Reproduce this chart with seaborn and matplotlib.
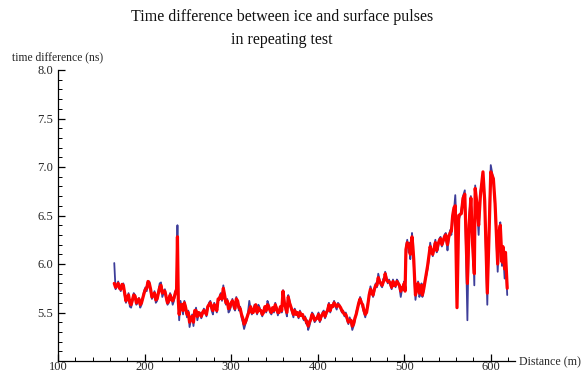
import matplotlib
matplotlib.use("Agg")
import matplotlib.pyplot as plt
from matplotlib.ticker import MultipleLocator
import seaborn as sns
import pandas as pd

# main samples
distance = [165, 168, 171, 174, 177, 180, 183, 186, 189, 192, 195, 198, 201, 204, 207, 210, 213, 216, 219, 222,
            225, 228, 231, 234, 237, 238, 240, 243, 246, 249, 252, 255, 258, 261, 264, 267, 270, 273, 276, 279,
            282, 285, 288, 291, 294, 297, 300, 303, 306, 309, 312, 315, 318, 321, 324, 327, 330, 333, 336, 339,
            342, 345, 348, 351, 354, 357, 360, 363, 366, 369, 372, 375, 378, 381, 384, 387, 389, 392, 395, 398,
            401, 404, 407, 410, 413, 416, 419, 422, 425, 428, 431, 434, 437, 440, 443, 446, 449, 452, 455, 458,
            461, 464, 467, 470, 473, 476, 478, 481, 484, 487, 490, 493, 496, 499, 501, 502, 505, 507, 509, 511,
            513, 516, 519, 521, 524, 527, 530, 533, 536, 539, 542, 545, 548, 550, 553, 556, 559, 561, 563, 566,
            568, 570, 573, 575, 577, 579, 581, 582, 584, 586, 588, 591, 593, 596, 598, 600, 603, 605, 608, 610,
            611, 613, 614, 616, 617, 619]

blue_values = [6.01, 5.77, 5.76, 5.78, 5.68, 5.64, 5.56, 5.62, 5.68, 5.60, 5.55, 5.66, 5.76, 5.80, 5.72, 5.67, 5.60, 5.72, 5.81, 5.70,
               5.64, 5.60, 5.66, 5.62, 5.70, 6.40, 5.42, 5.55, 5.62, 5.45, 5.35, 5.48, 5.50, 5.42, 5.50, 5.48, 5.52, 5.55, 5.62, 5.48,
               5.55, 5.62, 5.70, 5.78, 5.58, 5.50, 5.58, 5.55, 5.66, 5.52, 5.45, 5.33, 5.42, 5.62, 5.48, 5.58, 5.48, 5.55, 5.46, 5.55,
               5.62, 5.50, 5.54, 5.60, 5.47, 5.55, 5.73, 5.52, 5.68, 5.55, 5.45, 5.50, 5.44, 5.48, 5.42, 5.38, 5.32, 5.42, 5.48, 5.42,
               5.50, 5.44, 5.52, 5.48, 5.60, 5.55, 5.62, 5.53, 5.58, 5.50, 5.46, 5.42, 5.45, 5.32, 5.42, 5.55, 5.66, 5.55, 5.45, 5.60,
               5.77, 5.66, 5.80, 5.90, 5.78, 5.85, 5.92, 5.80, 5.78, 5.84, 5.76, 5.82, 5.66, 5.78, 5.74, 6.18, 6.12, 6.05, 6.32, 6.00,
               5.63, 5.82, 5.70, 5.66, 5.84, 5.95, 6.22, 6.08, 6.25, 6.15, 6.28, 6.22, 6.32, 6.14, 6.35, 6.45, 6.71, 6.30, 6.45, 6.55,
               6.70, 6.76, 5.42, 6.50, 6.70, 6.40, 5.78, 6.81, 6.60, 6.30, 6.75, 6.90, 6.60, 5.58, 6.40, 7.02, 6.87, 6.60, 5.92, 6.30,
               6.43, 5.98, 6.16, 5.85, 6.10, 5.68]

red_values = [5.80, 5.78, 5.75, 5.79, 5.70, 5.66, 5.60, 5.63, 5.67, 5.62, 5.58, 5.65, 5.74, 5.82, 5.74, 5.68, 5.63, 5.70, 5.78, 5.72,
              5.66, 5.62, 5.64, 5.65, 5.74, 6.28, 5.48, 5.58, 5.60, 5.48, 5.40, 5.46, 5.52, 5.46, 5.48, 5.50, 5.50, 5.56, 5.60, 5.52,
              5.56, 5.64, 5.68, 5.75, 5.60, 5.54, 5.60, 5.58, 5.64, 5.55, 5.48, 5.38, 5.44, 5.52, 5.50, 5.55, 5.50, 5.52, 5.48, 5.56,
              5.58, 5.52, 5.55, 5.58, 5.50, 5.56, 5.72, 5.55, 5.66, 5.56, 5.48, 5.48, 5.46, 5.47, 5.44, 5.40, 5.36, 5.43, 5.46, 5.44,
              5.48, 5.46, 5.50, 5.50, 5.58, 5.57, 5.60, 5.56, 5.57, 5.52, 5.48, 5.44, 5.42, 5.36, 5.44, 5.54, 5.64, 5.58, 5.48, 5.58,
              5.74, 5.68, 5.78, 5.86, 5.80, 5.82, 5.90, 5.82, 5.80, 5.82, 5.78, 5.80, 5.72, 5.76, 5.72, 6.15, 6.20, 6.10, 6.28, 6.05,
              5.68, 5.80, 5.72, 5.68, 5.82, 5.98, 6.18, 6.10, 6.22, 6.20, 6.26, 6.24, 6.30, 6.20, 6.32, 6.50, 6.60, 5.55, 6.50, 6.52,
              6.68, 6.72, 5.80, 6.40, 6.68, 6.20, 5.90, 6.78, 6.62, 6.40, 6.70, 6.95, 6.65, 5.70, 6.30, 6.95, 6.88, 6.62, 6.00, 6.35,
              6.40, 6.02, 6.18, 5.95, 6.12, 5.75]

# in-between samples (the fast jitter of the traces)
distance_mid = [166.5, 169.5, 172.5, 175.5, 178.5, 181.5, 184.5, 187.5, 190.5, 193.5, 196.5, 199.5, 202.5, 205.5, 208.5,
                211.5, 214.5, 217.5, 220.5, 223.5, 226.5, 229.5, 232.5, 235.5, 239, 241.5, 244.5, 247.5, 250.5, 253.5,
                256.5, 259.5, 262.5, 265.5, 268.5, 271.5, 274.5, 277.5, 280.5, 283.5, 286.5, 289.5, 292.5, 295.5, 298.5,
                301.5, 304.5, 307.5, 310.5, 313.5, 316.5, 319.5, 322.5, 325.5, 328.5, 331.5, 334.5, 337.5, 340.5, 343.5,
                346.5, 349.5, 352.5, 355.5, 358.5, 361.5, 364.5, 367.5, 370.5, 373.5, 376.5, 379.5, 382.5, 385.5, 388,
                390.5, 393.5, 396.5, 399.5, 402.5, 405.5, 408.5, 411.5, 414.5, 417.5, 420.5, 423.5, 426.5, 429.5, 432.5,
                435.5, 438.5, 441.5, 444.5, 447.5, 450.5, 453.5, 456.5, 459.5, 462.5, 465.5, 468.5, 471.5, 474.5, 477,
                479.5, 482.5, 485.5, 488.5, 491.5, 494.5, 497.5, 500, 503.5, 506, 508, 510, 512, 514.5, 517.5,
                520, 522.5, 525.5, 528.5, 531.5, 534.5, 537.5, 540.5, 543.5, 546.5, 549, 551.5, 554.5, 557.5]

blue_mid = [5.74, 5.82, 5.72, 5.80, 5.60, 5.70, 5.55, 5.70, 5.58, 5.65, 5.58, 5.72, 5.72, 5.82, 5.64,
            5.72, 5.62, 5.80, 5.66, 5.74, 5.58, 5.70, 5.58, 5.72, 5.60, 5.62, 5.48, 5.56, 5.52, 5.42,
            5.36, 5.55, 5.48, 5.44, 5.54, 5.46, 5.60, 5.52, 5.60, 5.50, 5.66, 5.62, 5.66, 5.64, 5.52,
            5.64, 5.52, 5.60, 5.56, 5.40, 5.38, 5.50, 5.54, 5.52, 5.56, 5.58, 5.50, 5.52, 5.50, 5.58,
            5.48, 5.50, 5.55, 5.52, 5.50, 5.62, 5.46, 5.62, 5.50, 5.54, 5.48, 5.52, 5.46, 5.46, 5.42,
            5.36, 5.50, 5.40, 5.46, 5.40, 5.50, 5.44, 5.54, 5.50, 5.58, 5.56, 5.60, 5.54, 5.52, 5.50,
            5.38, 5.40, 5.36, 5.50, 5.58, 5.62, 5.50, 5.52, 5.66, 5.72, 5.72, 5.76, 5.84, 5.76, 5.82,
            5.86, 5.84, 5.74, 5.80, 5.84, 5.76, 5.74, 5.82, 6.25, 6.22, 6.15, 6.20, 5.80, 5.74, 5.66,
            5.80, 5.72, 5.88, 6.05, 6.14, 6.18, 6.12, 6.26, 6.18, 6.30, 6.22, 6.26, 6.30, 6.55]

red_mid = [5.76, 5.80, 5.74, 5.78, 5.62, 5.68, 5.58, 5.68, 5.60, 5.64, 5.60, 5.70, 5.75, 5.80, 5.66,
           5.70, 5.64, 5.76, 5.70, 5.72, 5.60, 5.68, 5.62, 5.70, 5.62, 5.58, 5.52, 5.55, 5.50, 5.45,
           5.40, 5.52, 5.50, 5.46, 5.52, 5.48, 5.58, 5.55, 5.58, 5.52, 5.64, 5.64, 5.68, 5.62, 5.55,
           5.62, 5.54, 5.62, 5.54, 5.44, 5.40, 5.48, 5.56, 5.50, 5.58, 5.55, 5.52, 5.50, 5.52, 5.56,
           5.50, 5.52, 5.54, 5.50, 5.52, 5.60, 5.50, 5.60, 5.52, 5.52, 5.50, 5.50, 5.48, 5.44, 5.40,
           5.40, 5.48, 5.42, 5.44, 5.42, 5.48, 5.46, 5.52, 5.52, 5.56, 5.58, 5.58, 5.55, 5.50, 5.48,
           5.40, 5.42, 5.38, 5.48, 5.60, 5.60, 5.52, 5.50, 5.68, 5.70, 5.74, 5.78, 5.82, 5.78, 5.84,
           5.84, 5.82, 5.76, 5.78, 5.82, 5.78, 5.76, 5.80, 6.22, 6.18, 6.20, 6.18, 5.85, 5.76, 5.70,
           5.78, 5.74, 5.90, 6.08, 6.12, 6.16, 6.14, 6.24, 6.20, 6.28, 6.24, 6.28, 6.34, 6.58]

df = pd.DataFrame({"distance": distance + distance_mid,
                   "blue": blue_values + blue_mid,
                   "red": red_values + red_mid}).sort_values("distance").reset_index(drop=True)

sns.set_style("white")
plt.rcParams["font.family"] = ["Liberation Serif", "DejaVu Serif"]

fig = plt.figure(figsize=(5.81, 3.74), dpi=100)
ax = fig.add_axes([58 / 581, 1 - 361 / 374, (515 - 58) / 581, (361 - 70) / 374])

sns.lineplot(data=df, x="distance", y="blue", ax=ax, color="#3D3D99", linewidth=1.3, estimator=None, sort=False)
sns.lineplot(data=df, x="distance", y="red", ax=ax, color="#FF0000", linewidth=2.3, estimator=None, sort=False)

ax.set_xlim(100, 628)
ax.set_ylim(5.0, 8.0)
ax.xaxis.set_minor_locator(MultipleLocator(20))
ax.yaxis.set_minor_locator(MultipleLocator(0.1))
ax.set_yticks([5.5, 6.0, 6.5, 7.0, 7.5, 8.0])
ax.set_yticklabels(["5.5", "6.0", "6.5", "7.0", "7.5", "8.0"])
ax.set_xticks([100, 200, 300, 400, 500, 600])
ax.set_xticklabels(["100", "200", "300", "400", "500", "600"])

for s in ["top", "right"]:
    ax.spines[s].set_visible(False)
for s in ["left", "bottom"]:
    ax.spines[s].set_color("black")
    ax.spines[s].set_linewidth(0.9)

ax.tick_params(axis="y", which="major", direction="in", length=5, width=0.9, color="black",
               labelsize=9, pad=3.5, left=True)
ax.tick_params(axis="x", which="major", direction="in", length=5, width=0.9, color="black",
               labelsize=9, pad=0.3, bottom=True)
ax.tick_params(axis="both", which="minor", direction="in", length=2.8, width=0.7, color="black",
               left=True, bottom=True)
ax.set_xlabel("")
ax.set_ylabel("")

fig.text(282 / 581, 1 - 17 / 374, "Time difference between ice and surface pulses", ha="center", va="center",
         fontsize=11.5, color="#111111")
fig.text(282 / 581, 1 - 40 / 374, "in repeating test", ha="center", va="center",
         fontsize=11.5, color="#111111")
fig.text(12 / 581, 1 - 57 / 374, "time difference (ns)", ha="left", va="center", fontsize=8.4)
fig.text(519 / 581, 1 - 362 / 374, "Distance (m)", ha="left", va="center", fontsize=8.6)

fig.savefig("out.png", dpi=100)
